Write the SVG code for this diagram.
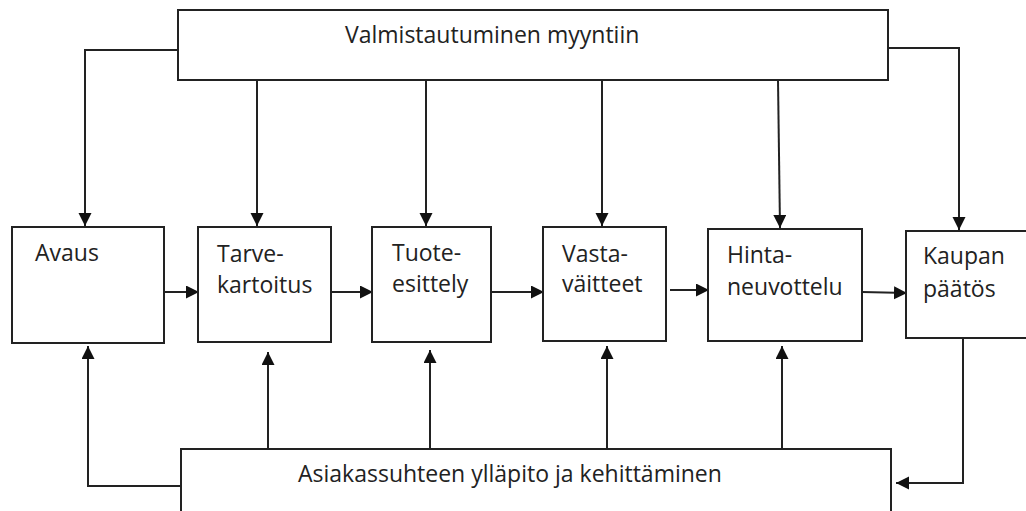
<svg xmlns="http://www.w3.org/2000/svg" width="1026" height="511" viewBox="0 0 1026 511">
<style>
.box{fill:#fff;stroke:#222;stroke-width:2}
.t{font-family:"Open Sans","Liberation Sans",sans-serif;font-size:23px;fill:#222}
.c{fill:none;stroke:#222;stroke-width:2;marker-end:url(#ah)}
</style>
<defs>
<marker id="ah" markerUnits="userSpaceOnUse" markerWidth="14" markerHeight="14" refX="13" refY="6.5" orient="auto">
<path d="M0,0 L13,6.5 L0,13 Z" fill="#111"/>
</marker>
</defs>
<rect width="1026" height="511" fill="#fff"/>
<g id="connectors">
<path class="c" d="M178,50 H85 V226"/>
<path class="c" d="M257,80 V226"/>
<path class="c" d="M426,80 V226"/>
<path class="c" d="M602,80 V226"/>
<path class="c" d="M778,80 L780,228"/>
<path class="c" d="M888,48 H959 V230"/>
<path class="c" d="M164,292 H199"/>
<path class="c" d="M331,292 H373"/>
<path class="c" d="M491,292 H544"/>
<path class="c" d="M670,290 H709"/>
<path class="c" d="M862,292 L907,293"/>
<path class="c" d="M181,486 H88 V346"/>
<path class="c" d="M268,449 V352"/>
<path class="c" d="M430,449 V350"/>
<path class="c" d="M607,449 V346"/>
<path class="c" d="M782,449 V346"/>
<path class="c" d="M963,339 V483 H896"/>
</g>
<g id="top">
<rect class="box" x="178" y="10" width="710" height="70"/>
<text class="t" x="345" y="43">Valmistautuminen myyntiin</text>
</g>
<g id="bottom">
<rect class="box" x="181" y="449" width="710" height="80"/>
<text class="t" x="298" y="482">Asiakassuhteen ylläpito ja kehittäminen</text>
</g>
<g id="avaus">
<rect class="box" x="12" y="227" width="152" height="116"/>
<text class="t" x="35" y="261">Avaus</text>
</g>
<g id="tarve">
<rect class="box" x="198" y="227" width="133" height="115"/>
<text class="t" x="217" y="262">Tarve-</text>
<text class="t" x="217" y="293">kartoitus</text>
</g>
<g id="tuote">
<rect class="box" x="372" y="227" width="119" height="115"/>
<text class="t" x="392" y="261">Tuote-</text>
<text class="t" x="392" y="292">esittely</text>
</g>
<g id="vasta">
<rect class="box" x="543" y="227" width="123" height="114"/>
<text class="t" x="562" y="262">Vasta-</text>
<text class="t" x="562" y="292">väitteet</text>
</g>
<g id="hinta">
<rect class="box" x="708" y="229" width="154" height="112"/>
<text class="t" x="727" y="263">Hinta-</text>
<text class="t" x="727" y="295">neuvottelu</text>
</g>
<g id="kaupan">
<rect class="box" x="906" y="231" width="130" height="107"/>
<text class="t" x="923" y="264">Kaupan</text>
<text class="t" x="923" y="297">päätös</text>
</g>
</svg>
